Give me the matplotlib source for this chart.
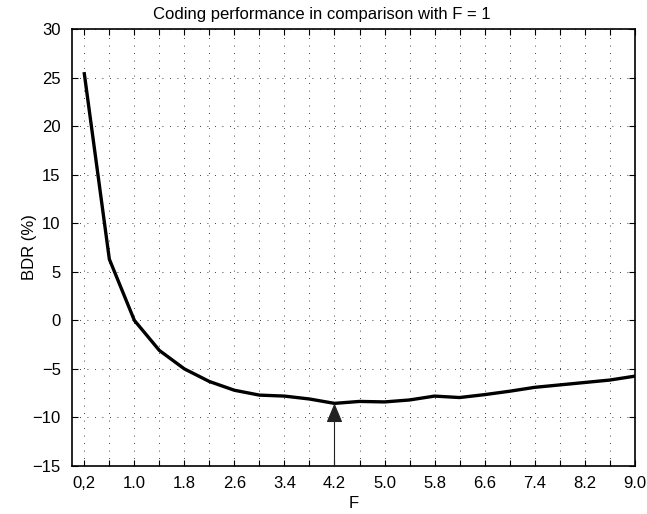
import numpy as np
import matplotlib
matplotlib.use("Agg")
import matplotlib.pyplot as plt

plt.rcParams["font.family"] = ["Liberation Sans", "DejaVu Sans"]

# BDR relative to F = 1, sampled every 0.4
F = [0.2, 0.6, 1.0, 1.4, 1.8, 2.2, 2.6, 3.0, 3.4, 3.8, 4.2, 4.6,
     5.0, 5.4, 5.8, 6.2, 6.6, 7.0, 7.4, 7.8, 8.2, 8.6, 9.0]
bdr = [25.4, 6.3, 0.0, -3.1, -5.0, -6.3, -7.2, -7.7, -7.8, -8.1, -8.55, -8.35,
       -8.4, -8.2, -7.8, -7.95, -7.65, -7.3, -6.9, -6.65, -6.4, -6.15, -5.75]
x_labels = ["0,2", "1.0", "1.8", "2.6", "3.4", "4.2", "5.0", "5.8", "6.6", "7.4", "8.2", "9.0"]
best_F = 4.2

fig = plt.figure(figsize=(6.47, 5.14), dpi=100)
ax = fig.add_axes([0.111, 0.0934, 0.870, 0.850])

ax.plot(F, bdr, color="black", lw=2.4, solid_joinstyle="round")

best_v = bdr[F.index(best_F)]
ax.annotate("", xy=(best_F, best_v), xytext=(best_F, -15),
            arrowprops=dict(arrowstyle="-|>,head_length=1.2,head_width=0.5",
                            color="#222222", lw=0.8, shrinkA=0, shrinkB=0))

ax.set_xlim(0, 9.0)
ax.set_ylim(-15, 30)
ax.set_xticks(F)
ax.set_xticklabels([x_labels[i // 2] if i % 2 == 0 else "" for i in range(len(F))])
ax.set_yticks(np.arange(-15, 31, 5))
ax.tick_params(direction="in", top=True, right=True, length=4, width=0.8,
               labelsize=12)
ax.tick_params(axis="x", pad=7)
ax.tick_params(axis="y", pad=8)
ax.grid(True, color="black", linestyle=(0, (1, 8)), lw=0.6)
for s in ax.spines.values():
    s.set_linewidth(1.2)

ax.set_xlabel("F", fontsize=12, labelpad=4)
ax.set_ylabel("BDR (%)", fontsize=12, labelpad=-3)
ax.set_title("Coding performance in comparison with F = 1", fontsize=12, pad=7, x=0.444)

fig.savefig("out.png", dpi=100)
